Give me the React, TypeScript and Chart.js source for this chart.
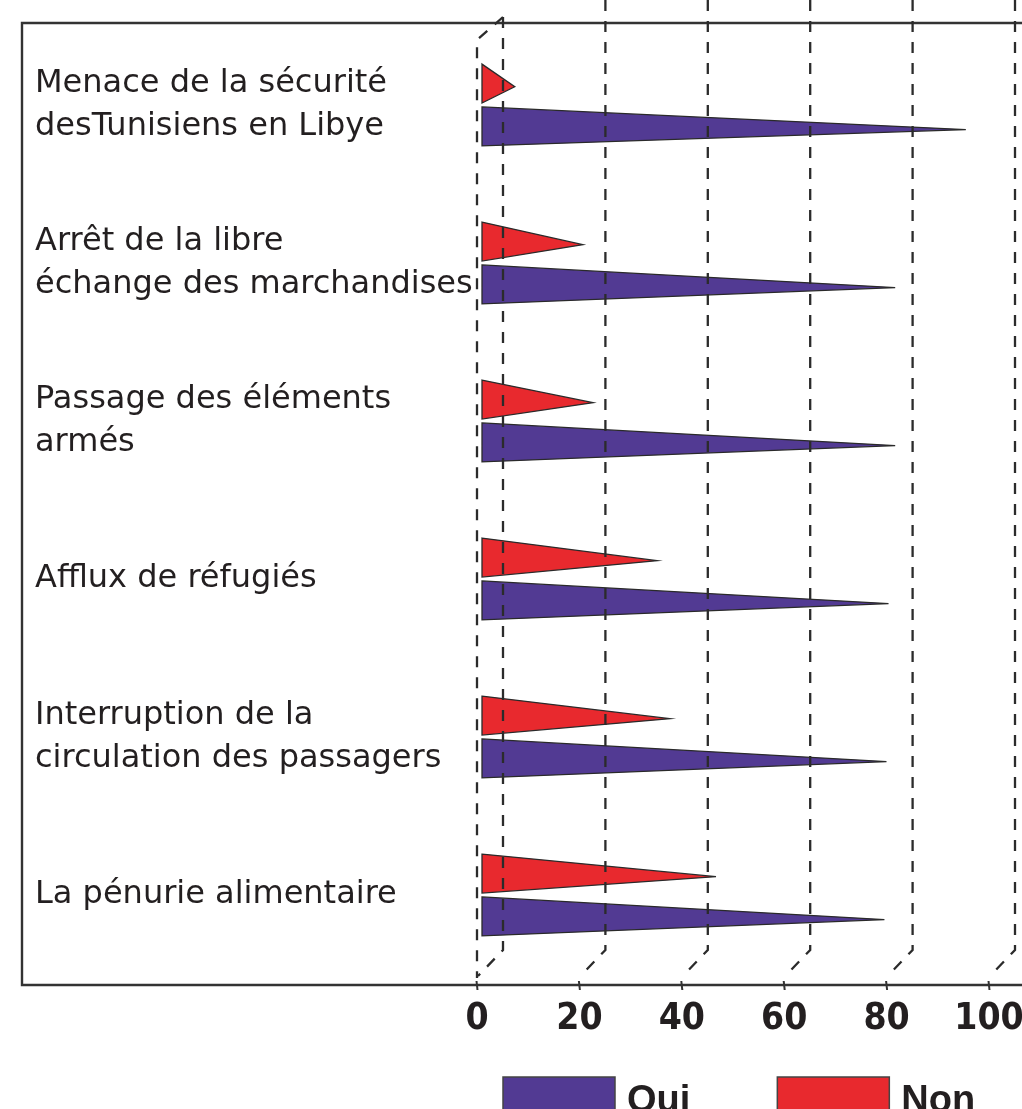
import React, { useEffect, useRef } from "react";
import { Chart, registerables } from "chart.js";

Chart.register(...registerables);

// ---------- data ----------
const categories: (string | string[])[] = [
  ["Menace de la sécurité", "desTunisiens en Libye"],
  ["Arrêt de la libre", "échange des marchandises"],
  ["Passage des éléments", "armés"],
  "Afflux de réfugiés",
  ["Interruption de la", "circulation des passagers"],
  "La pénurie alimentaire",
];
const seriesNames = ["Non", "Oui"];
const nonValues = [6.4, 19.7, 21.7, 34.2, 36.7, 45.7];
const ouiValues = [94.5, 80.7, 80.7, 79.4, 79.0, 78.6];
const xTickValues = [0, 20, 40, 60, 80, 100];

// ---------- styles ----------
const PURPLE = "#523a93";
const RED = "#e8292e";
const INK = "#231f20";
const LINE = "#2b2b2b";
const W = 1022;
const H = 1109;
const BAR_SHIFT = 5; // bars sit slightly behind the front plane
const DEPTH_X = 26; // back plane horizontal offset
const DASH = [11, 10];

const pyramid3dPlugin = {
  id: "pyramid3d",
  beforeDatasetsDraw(chart: any) {
    const { ctx, chartArea, scales } = chart;
    const xs = scales.x;
    ctx.save();

    // triangles from the bar elements
    chart.data.datasets.forEach((ds: any, di: number) => {
      const meta = chart.getDatasetMeta(di);
      meta.data.forEach((el: any) => {
        const { x, y, base, height } = el.getProps(["x", "y", "base", "height"], true);
        const top = y - height / 2;
        const bottom = y + height / 2;
        ctx.beginPath();
        ctx.moveTo(base + BAR_SHIFT, top);
        ctx.lineTo(x + BAR_SHIFT, y + height * 0.08);
        ctx.lineTo(base + BAR_SHIFT, bottom);
        ctx.closePath();
        ctx.fillStyle = ds.backgroundColor;
        ctx.fill();
        ctx.strokeStyle = ds.borderColor;
        ctx.lineWidth = 1.3;
        ctx.lineJoin = "miter";
        ctx.stroke();
      });
    });

    const backBottom = chartArea.bottom - 24;
    const frontBottom = chartArea.bottom + 4;
    const axisY = chartArea.bottom + 11;
    const boxTop = chartArea.top - 3;
    const boxLeft = 22;

    // outer frame
    ctx.setLineDash([]);
    ctx.strokeStyle = "#333";
    ctx.lineWidth = 2.4;
    ctx.beginPath();
    ctx.moveTo(W, boxTop);
    ctx.lineTo(boxLeft, boxTop);
    ctx.lineTo(boxLeft, axisY);
    ctx.lineTo(W, axisY);
    ctx.stroke();

    // axis tick marks on the front baseline
    ctx.lineWidth = 2;
    xTickValues.forEach((v) => {
      const xf = xs.getPixelForValue(v);
      ctx.beginPath();
      ctx.moveTo(xf - 0.5, axisY - 4);
      ctx.lineTo(xf + 0.5, axisY + 5);
      ctx.stroke();
    });

    // dashed 3D grid
    ctx.setLineDash(DASH);
    ctx.strokeStyle = LINE;
    ctx.lineWidth = 2.3;
    xTickValues.forEach((v, i) => {
      const xf = xs.getPixelForValue(v);
      const xb = xf + DEPTH_X;
      ctx.beginPath();
      ctx.moveTo(xb, i === 0 ? 17 : 0);
      ctx.lineTo(xb, backBottom);
      ctx.lineTo(xb - DEPTH_X + 1, frontBottom - 2);
      ctx.stroke();
    });
    // left wall front edge
    const x0 = xs.getPixelForValue(0);
    ctx.beginPath();
    ctx.moveTo(x0 + DEPTH_X, 17);
    ctx.lineTo(x0, chartArea.top + 14);
    ctx.lineTo(x0, frontBottom);
    ctx.stroke();

    ctx.restore();
    return false;
  },
  afterDraw(chart: any) {
    const { ctx, chartArea } = chart;
    ctx.save();
    const boxW = 112;
    const boxH = 40;
    const boxY = chartArea.bottom + 103;
    let x = chartArea.left + DEPTH_X;
    ctx.font = "bold 38px 'Liberation Sans', Arial, sans-serif";
    ctx.textBaseline = "alphabetic";
    const ds = chart.data.datasets.slice().reverse();
    ds.forEach((d: any) => {
      ctx.fillStyle = d.backgroundColor;
      ctx.fillRect(x, boxY, boxW, boxH);
      ctx.strokeStyle = "#444";
      ctx.lineWidth = 1.5;
      ctx.strokeRect(x, boxY, boxW, boxH);
      const tx = x + boxW + 12;
      ctx.fillStyle = INK;
      ctx.fillText(d.label, tx, boxY + 35);
      x = tx + ctx.measureText(d.label).width + 87;
    });
    ctx.restore();
  },
};

export default function App() {
  const ref = useRef<HTMLCanvasElement>(null);
  useEffect(() => {
    const canvas = ref.current;
    if (!canvas) return;
    const chart = new Chart(canvas, {
      type: "bar",
      data: {
        labels: categories,
        datasets: [
          {
            label: seriesNames[0],
            data: nonValues,
            backgroundColor: RED,
            borderColor: "#2a2a2a",
            categoryPercentage: 0.542,
            barPercentage: 0.91,
          },
          {
            label: seriesNames[1],
            data: ouiValues,
            backgroundColor: PURPLE,
            borderColor: "#2a2a2a",
            categoryPercentage: 0.542,
            barPercentage: 0.91,
          },
        ],
      },
      options: {
        indexAxis: "y",
        animation: false,
        responsive: false,
        maintainAspectRatio: false,
        layout: { padding: { left: 35, right: 33, top: 26, bottom: 0 } },
        plugins: {
          legend: { display: false },
          tooltip: { enabled: false },
        },
        scales: {
          x: {
            min: 0,
            max: 100,
            afterBuildTicks: (scale: any) => {
              scale.ticks = xTickValues.map((v) => ({ value: v }));
            },
            afterFit: (scale: any) => {
              scale.height = 135;
              scale.paddingLeft = 0;
              scale.paddingRight = 0;
            },
            grid: { display: false, drawTicks: false },
            border: { display: false },
            ticks: {
              padding: 23,
              color: INK,
              autoSkip: false,
              maxRotation: 0,
              font: { family: "'Liberation Sans Narrow', 'DejaVu Sans Condensed', sans-serif", weight: "bold", size: 37 },
            },
          },
          y: {
            afterFit: (scale: any) => {
              scale.width = 442;
              scale.paddingTop = 0;
              scale.paddingBottom = 0;
            },
            grid: { display: false, drawTicks: false },
            border: { display: false },
            ticks: {
              crossAlign: "far",
              padding: 0,
              color: INK,
              autoSkip: false,
              font: { family: "'DejaVu Sans', sans-serif", size: 32, lineHeight: 1.35 },
            },
          },
        },
      },
      plugins: [pyramid3dPlugin],
    } as any);
    return () => chart.destroy();
  }, []);

  return (
    <div style={{ position: "absolute", left: 0, top: 0, width: W, height: H, overflow: "hidden", background: "#fff" }}>
      <canvas ref={ref} width={W} height={H} style={{ display: "block" }} />
    </div>
  );
}
